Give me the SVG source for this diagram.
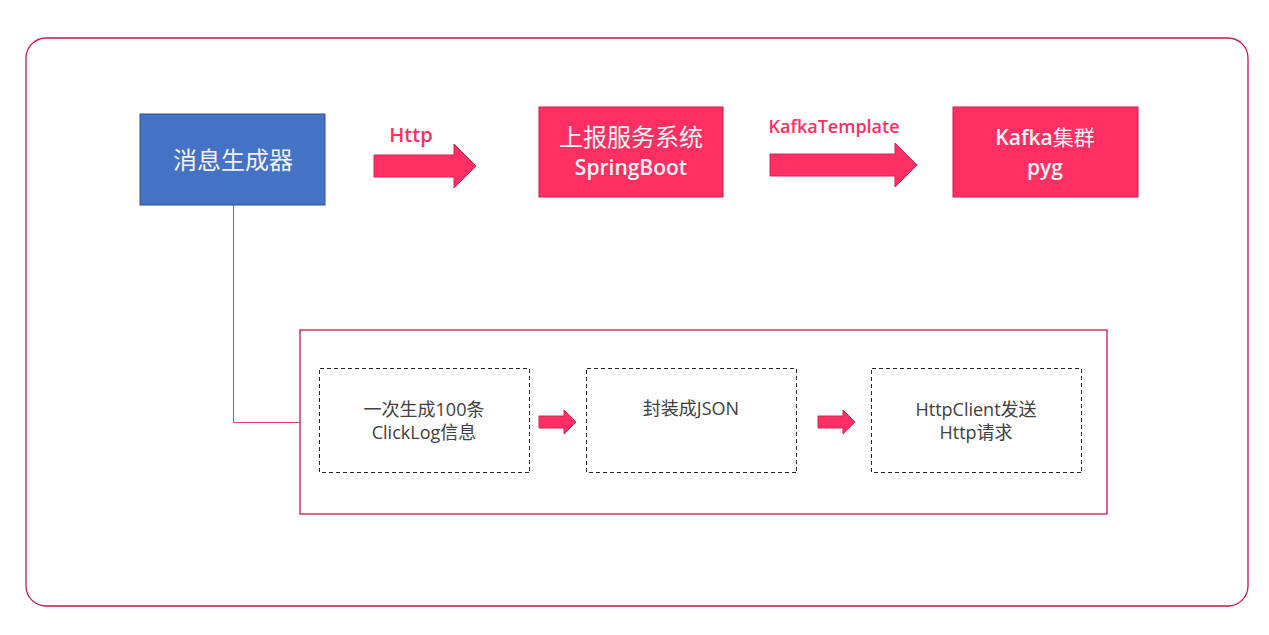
<svg xmlns="http://www.w3.org/2000/svg" width="1269" height="635" viewBox="0 0 1269 635">
<style>
.pink{fill:#ff2e63;stroke:#c91a4a;stroke-width:1}
.arrow{fill:#ff2e63;stroke:#d4245a;stroke-width:1}
.dash{fill:#ffffff;stroke:#262626;stroke-width:1;stroke-dasharray:4 3;shape-rendering:crispEdges}
.frame{fill:none;stroke:#c8174a;stroke-width:1.3}
.big{font-family:"Noto Sans CJK SC","Liberation Sans",sans-serif;font-size:24px;fill:#f2f2f2;text-anchor:middle}
.bigb{font-family:"Open Sans","Noto Sans CJK SC",sans-serif;font-size:21px;font-weight:600;fill:#f2f2f2;text-anchor:middle}
.cjk{font-family:"Noto Sans CJK SC",sans-serif;font-weight:400}
.lbl{font-family:"Open Sans","Noto Sans CJK SC",sans-serif;font-size:18px;font-weight:600;fill:#ff2e63}
.small{font-family:"Open Sans","Noto Sans CJK SC",sans-serif;font-size:18px;fill:#404040;text-anchor:middle}
</style>
<rect width="1269" height="635" fill="#ffffff"/>
<rect class="frame" x="26" y="38" width="1222" height="568" rx="20" ry="20"/>
<g id="connectors">
<polyline points="233.5,205 233.5,422.5 300,422.5" fill="none" stroke="#e0407a" stroke-width="1"/>
<g id="arrow-http">
<polygon class="arrow" points="374,155 454,155 454,144 476,166 454,188 454,177 374,177"/>
<text class="lbl" x="411" y="142" text-anchor="middle" style="font-size:20px">Http</text>
</g>
<g id="arrow-kafka">
<polygon class="arrow" points="770,154 895,154 895,143 917,165 895,187 895,176 770,176"/>
<text class="lbl" x="834" y="133" text-anchor="middle">KafkaTemplate</text>
</g>
<polygon class="arrow" points="539,416 564,416 564,410 576,422 564,434 564,428 539,428"/>
<polygon class="arrow" points="818,416 843,416 843,410 855,422 843,434 843,428 818,428"/>
</g>
<g id="node-generator">
<rect x="140" y="114" width="185" height="91" fill="#4472c4" stroke="#2f528f" stroke-width="1"/>
<text class="big" x="233" y="169">消息生成器</text>
</g>
<g id="node-report">
<rect class="pink" x="539" y="107" width="184" height="90"/>
<text class="big" x="631" y="146">上报服务系统</text>
<text class="bigb" x="631" y="175">SpringBoot</text>
</g>
<g id="node-kafka">
<rect class="pink" x="953" y="107" width="185" height="90"/>
<text class="bigb" x="1045" y="145">Kafka<tspan class="cjk">集群</tspan></text>
<text class="bigb" x="1045" y="175">pyg</text>
</g>
<g id="container">
<rect class="frame" x="300" y="330" width="807" height="184"/>
</g>
<g id="step1">
<rect class="dash" x="319.5" y="368.5" width="210" height="104"/>
<text class="small" x="424" y="416">一次生成100条</text>
<text class="small" x="424" y="439">ClickLog信息</text>
</g>
<g id="step2">
<rect class="dash" x="586.5" y="368.5" width="210" height="104"/>
<text class="small" x="691" y="415">封装成JSON</text>
</g>
<g id="step3">
<rect class="dash" x="871.5" y="368.5" width="210" height="104"/>
<text class="small" x="976" y="416">HttpClient发送</text>
<text class="small" x="976" y="439">Http请求</text>
</g>
</svg>
